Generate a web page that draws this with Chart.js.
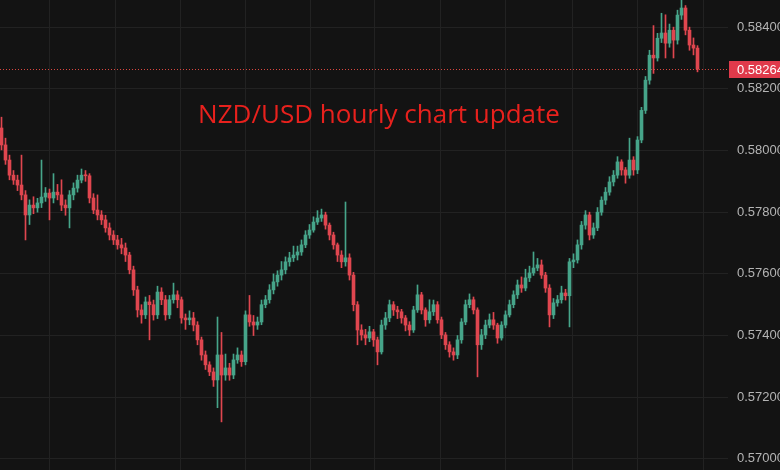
<!DOCTYPE html>
<html>
<head>
<meta charset="utf-8">
<title>NZD/USD hourly</title>
<script src="https://cdn.jsdelivr.net/npm/chart.js@4.4.1/dist/chart.umd.min.js"></script>
<style>
  html, body { margin: 0; padding: 0; background: #131313; overflow: hidden; }
  #wrap { width: 780px; height: 470px; }
</style>
</head>
<body>
<div id="wrap"><canvas id="chart" width="780" height="470"></canvas></div>
<script>
// hourly candles
var opens = [
  0.58073, 0.58018, 0.57969, 0.57920, 0.57904, 0.57888, 0.57856, 0.57791, 0.57823, 0.57814,
  0.57830, 0.57849, 0.57862, 0.57846, 0.57865, 0.57856, 0.57823, 0.57814, 0.57856, 0.57878,
  0.57904, 0.57920, 0.57918, 0.57846, 0.57807, 0.57791, 0.57775, 0.57749, 0.57726, 0.57710,
  0.57694, 0.57684, 0.57661, 0.57613, 0.57548, 0.57483, 0.57467, 0.57509, 0.57500, 0.57467,
  0.57541, 0.57516, 0.57467, 0.57516, 0.57532, 0.57516, 0.57457, 0.57451, 0.57457, 0.57434,
  0.57386, 0.57337, 0.57305, 0.57282, 0.57256, 0.57337, 0.57272, 0.57295, 0.57272, 0.57321,
  0.57337, 0.57315, 0.57467, 0.57444, 0.57434, 0.57444, 0.57500, 0.57516, 0.57548, 0.57574,
  0.57596, 0.57613, 0.57639, 0.57652, 0.57661, 0.57671, 0.57694, 0.57726, 0.57742, 0.57768,
  0.57781, 0.57791, 0.57758, 0.57726, 0.57694, 0.57661, 0.57639, 0.57652, 0.57596, 0.57500,
  0.57418, 0.57402, 0.57392, 0.57412, 0.57386, 0.57347, 0.57434, 0.57457, 0.57500, 0.57483,
  0.57477, 0.57457, 0.57434, 0.57418, 0.57483, 0.57532, 0.57483, 0.57451, 0.57477, 0.57500,
  0.57451, 0.57402, 0.57370, 0.57347, 0.57337, 0.57386, 0.57444, 0.57500, 0.57516, 0.57483,
  0.57370, 0.57402, 0.57434, 0.57451, 0.57434, 0.57392, 0.57434, 0.57467, 0.57500, 0.57532,
  0.57564, 0.57554, 0.57587, 0.57603, 0.57619, 0.57629, 0.57596, 0.57554, 0.57467, 0.57506,
  0.57516, 0.57538, 0.57529, 0.57639, 0.57645, 0.57694, 0.57758, 0.57791, 0.57726, 0.57749,
  0.57800, 0.57839, 0.57865, 0.57898, 0.57920, 0.57963, 0.57937, 0.57920, 0.57969, 0.57937,
  0.58034, 0.58130, 0.58228, 0.58309, 0.58300, 0.58364, 0.58381, 0.58348, 0.58390, 0.58358,
  0.58439, 0.58462, 0.58390, 0.58342, 0.58332
];
var highs = [
  0.58108, 0.58040, 0.57985, 0.57935, 0.57920, 0.57985, 0.57870, 0.57840, 0.57850, 0.57845,
  0.57969, 0.57880, 0.57875, 0.57925, 0.57890, 0.57905, 0.57840, 0.57870, 0.57895, 0.57920,
  0.57940, 0.57935, 0.57925, 0.57860, 0.57856, 0.57805, 0.57790, 0.57765, 0.57740, 0.57725,
  0.57715, 0.57700, 0.57670, 0.57625, 0.57560, 0.57500, 0.57525, 0.57530, 0.57515, 0.57560,
  0.57555, 0.57530, 0.57530, 0.57570, 0.57545, 0.57525, 0.57470, 0.57480, 0.57475, 0.57445,
  0.57395, 0.57350, 0.57315, 0.57295, 0.57460, 0.57410, 0.57340, 0.57310, 0.57340, 0.57360,
  0.57350, 0.57480, 0.57530, 0.57465, 0.57460, 0.57515, 0.57530, 0.57565, 0.57600, 0.57610,
  0.57640, 0.57655, 0.57670, 0.57690, 0.57690, 0.57710, 0.57740, 0.57760, 0.57785, 0.57805,
  0.57810, 0.57800, 0.57765, 0.57735, 0.57700, 0.57675, 0.57833, 0.57665, 0.57605, 0.57510,
  0.57435, 0.57420, 0.57430, 0.57420, 0.57395, 0.57450, 0.57475, 0.57515, 0.57510, 0.57495,
  0.57485, 0.57465, 0.57445, 0.57495, 0.57564, 0.57540, 0.57490, 0.57516, 0.57515, 0.57510,
  0.57460, 0.57410, 0.57380, 0.57360, 0.57400, 0.57455, 0.57515, 0.57535, 0.57525, 0.57490,
  0.57420, 0.57450, 0.57470, 0.57475, 0.57440, 0.57445, 0.57480, 0.57515, 0.57545, 0.57580,
  0.57590, 0.57615, 0.57625, 0.57671, 0.57650, 0.57645, 0.57605, 0.57565, 0.57520, 0.57530,
  0.57560, 0.57550, 0.57650, 0.57665, 0.57710, 0.57770, 0.57805, 0.57800, 0.57765, 0.57815,
  0.57850, 0.57880, 0.57915, 0.57935, 0.57980, 0.57970, 0.57945, 0.58040, 0.57980, 0.58045,
  0.58140, 0.58240, 0.58325, 0.58405, 0.58380, 0.58445, 0.58440, 0.58410, 0.58400, 0.58455,
  0.58487, 0.58470, 0.58400, 0.58365, 0.58340
];
var lows = [
  0.58002, 0.57955, 0.57905, 0.57890, 0.57870, 0.57840, 0.57710, 0.57760, 0.57795, 0.57800,
  0.57815, 0.57835, 0.57775, 0.57830, 0.57840, 0.57805, 0.57790, 0.57749, 0.57840, 0.57865,
  0.57895, 0.57900, 0.57830, 0.57795, 0.57775, 0.57760, 0.57735, 0.57710, 0.57695, 0.57680,
  0.57665, 0.57640, 0.57600, 0.57530, 0.57460, 0.57440, 0.57455, 0.57386, 0.57450, 0.57455,
  0.57500, 0.57450, 0.57455, 0.57505, 0.57490, 0.57440, 0.57420, 0.57435, 0.57415, 0.57370,
  0.57320, 0.57290, 0.57270, 0.57235, 0.57166, 0.57120, 0.57255, 0.57255, 0.57260, 0.57310,
  0.57300, 0.57305, 0.57430, 0.57400, 0.57420, 0.57435, 0.57490, 0.57505, 0.57535, 0.57560,
  0.57580, 0.57600, 0.57625, 0.57640, 0.57645, 0.57660, 0.57685, 0.57715, 0.57735, 0.57760,
  0.57770, 0.57745, 0.57710, 0.57680, 0.57640, 0.57620, 0.57625, 0.57580, 0.57480, 0.57370,
  0.57385, 0.57370, 0.57380, 0.57365, 0.57305, 0.57340, 0.57420, 0.57445, 0.57465, 0.57455,
  0.57440, 0.57415, 0.57400, 0.57410, 0.57475, 0.57470, 0.57430, 0.57440, 0.57465, 0.57440,
  0.57390, 0.57355, 0.57330, 0.57320, 0.57325, 0.57375, 0.57435, 0.57490, 0.57470, 0.57266,
  0.57355, 0.57390, 0.57425, 0.57420, 0.57375, 0.57385, 0.57425, 0.57460, 0.57490, 0.57520,
  0.57540, 0.57545, 0.57575, 0.57595, 0.57610, 0.57585, 0.57540, 0.57428, 0.57455, 0.57495,
  0.57505, 0.57515, 0.57428, 0.57620, 0.57635, 0.57680, 0.57745, 0.57710, 0.57715, 0.57740,
  0.57790, 0.57825, 0.57855, 0.57885, 0.57910, 0.57920, 0.57894, 0.57910, 0.57920, 0.57925,
  0.58025, 0.58120, 0.58215, 0.58250, 0.58290, 0.58350, 0.58300, 0.58335, 0.58300, 0.58345,
  0.58425, 0.58375, 0.58325, 0.58310, 0.58255
];
var closes = [
  0.58018, 0.57969, 0.57920, 0.57904, 0.57888, 0.57856, 0.57791, 0.57823, 0.57814, 0.57830,
  0.57849, 0.57862, 0.57846, 0.57865, 0.57856, 0.57823, 0.57814, 0.57856, 0.57878, 0.57904,
  0.57920, 0.57918, 0.57846, 0.57807, 0.57791, 0.57775, 0.57749, 0.57726, 0.57710, 0.57694,
  0.57684, 0.57661, 0.57613, 0.57548, 0.57483, 0.57467, 0.57509, 0.57500, 0.57467, 0.57541,
  0.57516, 0.57467, 0.57516, 0.57532, 0.57516, 0.57457, 0.57451, 0.57457, 0.57434, 0.57386,
  0.57337, 0.57305, 0.57282, 0.57256, 0.57337, 0.57272, 0.57295, 0.57272, 0.57321, 0.57337,
  0.57315, 0.57467, 0.57444, 0.57434, 0.57444, 0.57500, 0.57516, 0.57548, 0.57574, 0.57596,
  0.57613, 0.57639, 0.57652, 0.57661, 0.57671, 0.57694, 0.57726, 0.57742, 0.57768, 0.57781,
  0.57791, 0.57758, 0.57726, 0.57694, 0.57661, 0.57639, 0.57652, 0.57596, 0.57500, 0.57418,
  0.57402, 0.57392, 0.57412, 0.57386, 0.57347, 0.57434, 0.57457, 0.57500, 0.57483, 0.57477,
  0.57457, 0.57434, 0.57418, 0.57483, 0.57532, 0.57483, 0.57451, 0.57477, 0.57500, 0.57451,
  0.57402, 0.57370, 0.57347, 0.57337, 0.57386, 0.57444, 0.57500, 0.57516, 0.57483, 0.57370,
  0.57402, 0.57434, 0.57451, 0.57434, 0.57392, 0.57434, 0.57467, 0.57500, 0.57532, 0.57564,
  0.57554, 0.57587, 0.57603, 0.57619, 0.57629, 0.57596, 0.57554, 0.57467, 0.57506, 0.57516,
  0.57538, 0.57529, 0.57639, 0.57645, 0.57694, 0.57758, 0.57791, 0.57726, 0.57749, 0.57800,
  0.57839, 0.57865, 0.57898, 0.57920, 0.57963, 0.57937, 0.57920, 0.57969, 0.57937, 0.58034,
  0.58130, 0.58228, 0.58309, 0.58300, 0.58364, 0.58381, 0.58348, 0.58390, 0.58358, 0.58439,
  0.58462, 0.58390, 0.58342, 0.58332, 0.58264
];
var priceTicks = [0.570, 0.572, 0.574, 0.576, 0.578, 0.580, 0.582, 0.584];
// vertical time grid, in candle units
var timeGrid = [11.875, 28.375, 44.625, 60.875, 77.125, 93.375, 109.625, 125.875, 142.625, 158.875, 175.375];
var lastPrice = 0.58264;
var chartTitle = 'NZD/USD hourly chart update';

var upColor = '#46a58a';
var downColor = '#e0464f';

var bodies = [], wicks = [], colors = [];
for (var i = 0; i < closes.length; i++) {
    bodies.push({ x: i, y: [opens[i], closes[i]] });
    wicks.push({ x: i, y: [lows[i], highs[i]] });
    colors.push(closes[i] >= opens[i] ? upColor : downColor);
}

var overlay = {
    id: 'overlay',
    beforeDatasetsDraw: function (chart) {
        var ctx = chart.ctx, area = chart.chartArea;
        var y = Math.round(chart.scales.y.getPixelForValue(lastPrice)) + 0.5;
        ctx.save();
        ctx.strokeStyle = '#d9473f';
        ctx.lineWidth = 1;
        ctx.setLineDash([1, 2]);
        ctx.beginPath();
        ctx.moveTo(area.left, y);
        ctx.lineTo(area.right, y);
        ctx.stroke();
        ctx.restore();
    },
    afterDraw: function (chart) {
        var ctx = chart.ctx, area = chart.chartArea;
        var y = chart.scales.y.getPixelForValue(lastPrice);
        ctx.save();
        // last price tag
        ctx.fillStyle = '#e03a4b';
        ctx.fillRect(area.right + 1, Math.round(y) - 8, chart.width - area.right, 17);
        ctx.fillStyle = '#ffffff';
        ctx.font = '13px "Liberation Sans", Arial, sans-serif';
        ctx.textBaseline = 'middle';
        ctx.textAlign = 'left';
        ctx.fillText(lastPrice.toFixed(5), area.right + 9, Math.round(y) + 1);
        // headline
        ctx.fillStyle = '#e8211d';
        ctx.font = '26px "Open Sans", sans-serif';
        ctx.textAlign = 'center';
        ctx.textBaseline = 'alphabetic';
        ctx.fillText(chartTitle, 379, 123);
        ctx.restore();
    }
};

var ctx = document.getElementById('chart').getContext('2d');
var chart = new Chart(ctx, {
    type: 'bar',
    data: {
        datasets: [{
            label: 'wick',
            data: wicks,
            backgroundColor: colors,
            barThickness: 1,
            grouped: false,
            borderWidth: 0
        }, {
            label: 'body',
            data: bodies,
            backgroundColor: colors,
            barThickness: 3,
            minBarLength: 1,
            grouped: false,
            borderWidth: 0
        }]
    },
    options: {
        responsive: false,
        animation: false,
        devicePixelRatio: 1,
        layout: { padding: 0 },
        plugins: {
            legend: { display: false },
            tooltip: { enabled: false },
            title: { display: false }
        },
        scales: {
            x: {
                type: 'linear',
                min: -0.375,
                max: 181.625,
                offset: false,
                afterBuildTicks: function (scale) {
                    scale.ticks = timeGrid.map(function (v) { return { value: v }; });
                },
                afterFit: function (scale) {
                    scale.height = 0;
                    scale.paddingLeft = 0;
                    scale.paddingRight = 0;
                },
                ticks: { display: false },
                grid: { color: '#222222', drawTicks: false, offset: false },
                border: { display: false }
            },
            y: {
                position: 'right',
                min: 0.56964,
                max: 0.58488,
                afterBuildTicks: function (scale) {
                    scale.ticks = priceTicks.map(function (v) { return { value: v }; });
                },
                afterFit: function (scale) {
                    scale.width = 52;
                    scale.paddingTop = 0;
                    scale.paddingBottom = 0;
                },
                ticks: {
                    color: '#b4b4b4',
                    padding: 9,
                    font: { family: '"Liberation Sans", Arial, sans-serif', size: 13 },
                    callback: function (v) { return Number(v).toFixed(5); }
                },
                grid: { color: '#222222', drawTicks: false },
                border: { display: false }
            }
        }
    },
    plugins: [overlay]
});
</script>
</body>
</html>
